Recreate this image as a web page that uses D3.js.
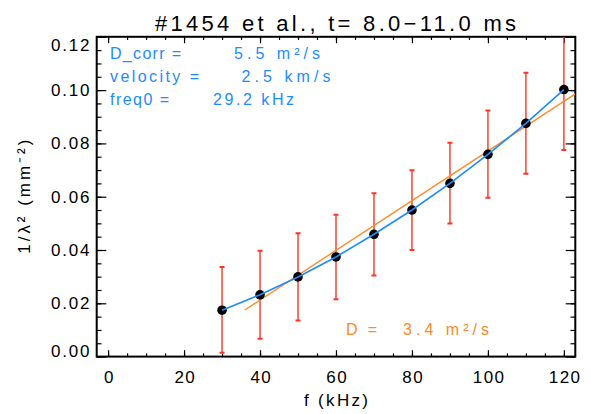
<!DOCTYPE html>
<html>
<head>
<meta charset="utf-8">
<script src="https://cdn.jsdelivr.net/npm/d3@7"></script>
<style>
  html, body { margin: 0; padding: 0; background: #fff; }
  svg { display: block; font-family: "Liberation Sans", Arial, sans-serif; }
</style>
</head>
<body>
<div id="chart"></div>
<script>
// ---- data ----
const freqs = [30, 40, 50, 60, 70, 80, 90, 100, 110, 120];          // kHz
const invLambda2 = [0.0174, 0.0232, 0.0299, 0.0374, 0.0459, 0.0550, 0.0650, 0.0759, 0.0875, 0.1002];
const errLow  = [0.0014, 0.0067, 0.0135, 0.0215, 0.0304, 0.0400, 0.0499, 0.0596, 0.0686, 0.0775];
const errHigh = [0.0336, 0.0397, 0.0463, 0.0532, 0.0613, 0.0699, 0.0802, 0.0923, 0.1065, 0.1229];
const fitFreq = [36, 123];              // straight-line fit (orange)
const fitVal  = [0.0175, 0.0986];
const xTickLabels = [0, 20, 40, 60, 80, 100, 120];
const yTickLabels = [0.00, 0.02, 0.04, 0.06, 0.08, 0.10, 0.12];
const titleText = "#1454 et al., t= 8.0\u221211.0 ms";
const infoLines = [
  ["D_corr =", "5.5 m\u00B2/s"],
  ["velocity =", "2.5 km/s"],
  ["freq0 =", "29.2 kHz"]
];
const fitLabel = ["D =", "3.4 m\u00B2/s"];

// ---- layout ----
const W = 591, H = 414;
const L = 96.7, R = 575.3, T = 36.8, B = 356.6;
const blue = "#1e8cff", orange = "#ff8a26", red = "#ff3322";

const svg = d3.select("#chart").append("svg").attr("width", W).attr("height", H);

const x = d3.scaleLinear().domain([-3, 123]).range([L, R]);
const y = d3.scaleLinear().domain([0, 0.12]).range([B, T]);

svg.append("clipPath").attr("id", "plotclip")
  .append("rect").attr("x", L).attr("y", T).attr("width", R - L).attr("height", B - T);

const xMinor = d3.range(0, 121, 5);
const yMinor = d3.range(0, 0.1201, 0.005);

function styleAxis(g) {
  g.select(".domain").remove();
  g.selectAll("line").attr("stroke", "#000").attr("stroke-width", 1.2);
}

// bottom axis
const gB = svg.append("g").attr("transform", `translate(0,${B})`)
  .call(d3.axisBottom(x).tickValues(xTickLabels).tickSizeInner(-6.4).tickSizeOuter(0).tickPadding(14).tickFormat(d3.format("d")));
styleAxis(gB);
gB.selectAll("text").attr("font-size", 17).attr("fill", "#000").attr("letter-spacing", 1.4).attr("dx", 0.7)
  .attr("font-family", "Liberation Sans, Arial, sans-serif");
svg.append("g").attr("transform", `translate(0,${B})`)
  .call(d3.axisBottom(x).tickValues(xMinor).tickSizeInner(-3.2).tickSizeOuter(0).tickFormat(""))
  .call(styleAxis);
// top axis
svg.append("g").attr("transform", `translate(0,${T})`)
  .call(d3.axisTop(x).tickValues(xTickLabels).tickSizeInner(-6.4).tickSizeOuter(0).tickFormat(""))
  .call(styleAxis);
svg.append("g").attr("transform", `translate(0,${T})`)
  .call(d3.axisTop(x).tickValues(xMinor).tickSizeInner(-3.2).tickSizeOuter(0).tickFormat(""))
  .call(styleAxis);
// left axis
const gL = svg.append("g").attr("transform", `translate(${L},0)`)
  .call(d3.axisLeft(y).tickValues(yTickLabels).tickSizeInner(-9.6).tickSizeOuter(0).tickPadding(5.5).tickFormat(d3.format(".2f")));
styleAxis(gL);
gL.selectAll("text").attr("font-size", 17).attr("fill", "#000").attr("letter-spacing", 1.8)
  .attr("font-family", "Liberation Sans, Arial, sans-serif")
  .attr("y", d => d === 0 ? -6 : (Math.abs(d - 0.12) < 1e-9 ? 8 : 0));
svg.append("g").attr("transform", `translate(${L},0)`)
  .call(d3.axisLeft(y).tickValues(yMinor).tickSizeInner(-4.8).tickSizeOuter(0).tickFormat(""))
  .call(styleAxis);
// right axis
svg.append("g").attr("transform", `translate(${R},0)`)
  .call(d3.axisRight(y).tickValues(yTickLabels).tickSizeInner(-9.6).tickSizeOuter(0).tickFormat(""))
  .call(styleAxis);
svg.append("g").attr("transform", `translate(${R},0)`)
  .call(d3.axisRight(y).tickValues(yMinor).tickSizeInner(-4.8).tickSizeOuter(0).tickFormat(""))
  .call(styleAxis);

// frame
svg.append("rect").attr("x", L).attr("y", T).attr("width", R - L).attr("height", B - T)
  .attr("fill", "none").attr("stroke", "#000").attr("stroke-width", 2);

const plot = svg.append("g").attr("clip-path", "url(#plotclip)");

// error bars
const eb = plot.selectAll("g.eb").data(freqs.map((f, i) => ({ f, lo: errLow[i], hi: errHigh[i] })))
  .enter().append("g").attr("stroke", red).attr("stroke-width", 1.4);
eb.append("line").attr("x1", d => x(d.f)).attr("x2", d => x(d.f)).attr("y1", d => y(d.lo)).attr("y2", d => y(d.hi));
eb.append("line").attr("x1", d => x(d.f) - 2.5).attr("x2", d => x(d.f) + 2.5).attr("y1", d => y(d.lo)).attr("y2", d => y(d.lo)).attr("stroke-width", 2);
eb.append("line").attr("x1", d => x(d.f) - 2.5).attr("x2", d => x(d.f) + 2.5).attr("y1", d => y(d.hi)).attr("y2", d => y(d.hi)).attr("stroke-width", 2);

// orange fit line
plot.append("path").datum(fitFreq.map((f, i) => [f, fitVal[i]]))
  .attr("fill", "none").attr("stroke", orange).attr("stroke-width", 1.4)
  .attr("d", d3.line().x(d => x(d[0])).y(d => y(d[1])));

// dots
plot.selectAll("circle").data(freqs.map((f, i) => [f, invLambda2[i]]))
  .enter().append("circle").attr("cx", d => x(d[0])).attr("cy", d => y(d[1])).attr("r", 4.8).attr("fill", "#000");

// blue curve
plot.append("path").datum(freqs.map((f, i) => [f, invLambda2[i]]))
  .attr("fill", "none").attr("stroke", blue).attr("stroke-width", 1.6)
  .attr("d", d3.line().x(d => x(d[0])).y(d => y(d[1])));

// text helper
function txt(str, px, py, size, width, color, anchor) {
  const t = svg.append("text").attr("x", px).attr("y", py).attr("font-size", size)
    .attr("fill", color || "#000").attr("text-anchor", anchor || "start").text(str);
  if (width) t.attr("textLength", width).attr("lengthAdjust", "spacing");
  return t;
}

// title
txt(titleText, 155, 31, 22, 361, "#000");

// info text (blue)
const infoX1 = [110, 110, 110], infoX2 = [234, 241.5, 213];
const infoW1 = [71, 89, 59], infoW2 = [86, 89, 81];
infoLines.forEach((ln, i) => {
  const by = 58.5 + i * 23;
  txt(ln[0], infoX1[i], by, 16, infoW1[i], blue);
  txt(ln[1], infoX2[i], by, 16, infoW2[i], blue);
});

// fit label (orange)
txt(fitLabel[0], 346, 335, 16, 31, orange);
txt(fitLabel[1], 403, 335, 16, 86, orange);

// axis titles
txt("f (kHz)", 304, 406, 17, 64, "#000");
svg.append("text").attr("transform", `translate(29.5,${(T + B) / 2}) rotate(-90)`)
  .attr("text-anchor", "middle").attr("font-size", 17).attr("fill", "#000")
  .attr("textLength", 114).attr("lengthAdjust", "spacing")
  .text("1/\u03BB\u00B2 (mm\u207B\u00B2)");
</script>
</body>
</html>
